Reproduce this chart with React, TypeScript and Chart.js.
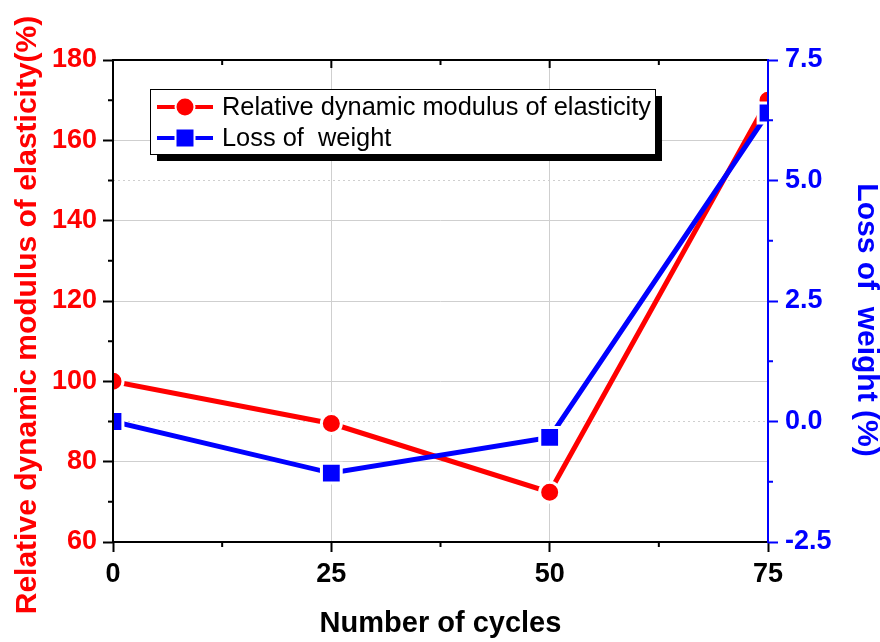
import { useEffect, useRef } from "react";
import { Chart, registerables } from "chart.js";

Chart.register(...registerables);

// Freeze–thaw test results
const cycles = [0, 25, 50, 75];
const relativeModulus = [100, 89.5, 72.4, 170];
const weightLoss = [0, -1.07, -0.33, 6.4];

const cycleTicks = [0, 25, 50, 75];
const modulusTicks = [60, 80, 100, 120, 140, 160, 180];
const lossTicks = [-2.5, 0, 2.5, 5, 7.5];

const seriesNames = ["Relative dynamic modulus of elasticity", "Loss of  weight"];
const xTitle = "Number of cycles";
const yTitle = "Relative dynamic modulus of elasticity(%)";
const y1Title = "Loss of  weight (%)";

const RED = "#ff0000";
const BLUE = "#0000ff";
const GRID = "#cfcfcf";
const FAMILY = "'Liberation Sans', Arial, Helvetica, sans-serif";

const midpoints = (arr: number[]) => arr.slice(0, -1).map((v, i) => (v + arr[i + 1]) / 2);

const edgeHidden = (ticks: number[], color: string) => (ctx: any) => {
  const v = ctx.tick ? ctx.tick.value : null;
  return v === ticks[0] || v === ticks[ticks.length - 1] ? "rgba(0,0,0,0)" : color;
};

// Axis frame, minor ticks, top mirror ticks
const framePlugin = {
  id: "frame",
  afterDatasetsDraw(chart: any) {
    const { ctx, chartArea } = chart;
    const { left, right, top, bottom } = chartArea;
    const xs = chart.scales.x;
    const ys = chart.scales.y;
    const y1 = chart.scales.y1;
    ctx.save();
    ctx.lineWidth = 2;
    ctx.strokeStyle = "#000";
    ctx.beginPath();
    ctx.moveTo(left - 1, top);
    ctx.lineTo(right, top);
    ctx.moveTo(left - 1, bottom);
    ctx.lineTo(right, bottom);
    ctx.moveTo(left, top);
    ctx.lineTo(left, bottom);
    // top mirror ticks (inward)
    cycleTicks.forEach((v) => {
      const px = xs.getPixelForValue(v);
      ctx.moveTo(px, top);
      ctx.lineTo(px, top + 8);
    });
    midpoints(cycleTicks).forEach((v) => {
      const px = xs.getPixelForValue(v);
      ctx.moveTo(px, top);
      ctx.lineTo(px, top + 5);
      // bottom minor ticks (outward)
      ctx.moveTo(px, bottom);
      ctx.lineTo(px, bottom + 5);
    });
    midpoints(modulusTicks).forEach((v) => {
      const py = ys.getPixelForValue(v);
      ctx.moveTo(left, py);
      ctx.lineTo(left - 5, py);
    });
    ctx.stroke();

    ctx.strokeStyle = BLUE;
    ctx.beginPath();
    ctx.moveTo(right, top - 1);
    ctx.lineTo(right, bottom + 1);
    midpoints(lossTicks).forEach((v) => {
      const py = y1.getPixelForValue(v);
      ctx.moveTo(right, py);
      ctx.lineTo(right + 5, py);
    });
    ctx.stroke();
    ctx.restore();
  },
};

// Axis titles
const titlePlugin = {
  id: "axisTitles",
  afterDraw(chart: any) {
    const { ctx, chartArea } = chart;
    ctx.save();
    ctx.textAlign = "center";
    ctx.textBaseline = "middle";

    ctx.fillStyle = "#000";
    ctx.font = `bold 29px ${FAMILY}`;
    ctx.fillText(xTitle, (chartArea.left + chartArea.right) / 2, 624);

    ctx.save();
    ctx.translate(28, 315);
    ctx.rotate(-Math.PI / 2);
    ctx.fillStyle = RED;
    ctx.font = `bold 30px ${FAMILY}`;
    ctx.fillText(yTitle, 0, 0);
    ctx.restore();

    ctx.save();
    ctx.translate(866, 320);
    ctx.rotate(Math.PI / 2);
    ctx.fillStyle = BLUE;
    ctx.font = `bold 30px ${FAMILY}`;
    ctx.fillText(y1Title, 0, 0);
    ctx.restore();

    ctx.restore();
  },
};

// Boxed legend with drop shadow
const legendPlugin = {
  id: "boxLegend",
  afterDraw(chart: any) {
    const { ctx } = chart;
    const bx = 150, by = 89, bw = 505, bh = 65, sh = 7;
    ctx.save();
    ctx.fillStyle = "#000";
    ctx.fillRect(bx + sh, by + sh, bw, bh);
    ctx.fillStyle = "#fff";
    ctx.fillRect(bx, by, bw, bh);
    ctx.strokeStyle = "#000";
    ctx.lineWidth = 1;
    ctx.strokeRect(bx + 0.5, by + 0.5, bw, bh);

    const rows = [107, 138];
    chart.data.datasets.forEach((ds: any, i: number) => {
      const yy = rows[i];
      const color = ds.borderColor;
      ctx.strokeStyle = color;
      ctx.lineWidth = 4;
      ctx.beginPath();
      ctx.moveTo(157, yy);
      ctx.lineTo(213, yy);
      ctx.stroke();
      ctx.fillStyle = color;
      ctx.strokeStyle = "#fff";
      ctx.lineWidth = 2;
      ctx.beginPath();
      if (ds.pointStyle === "rect") {
        ctx.rect(185 - 9.5, yy - 9.5, 19, 19);
      } else {
        ctx.arc(185, yy, 9.5, 0, Math.PI * 2);
      }
      ctx.fill();
      ctx.stroke();
      ctx.fillStyle = "#000";
      ctx.font = `25.4px ${FAMILY}`;
      ctx.textAlign = "left";
      ctx.textBaseline = "middle";
      ctx.fillText(ds.label, 222, yy + 1);
    });
    ctx.restore();
  },
};

export default function App() {
  const canvasRef = useRef<HTMLCanvasElement | null>(null);

  useEffect(() => {
    document.body.style.margin = "0";
    const canvas = canvasRef.current;
    if (!canvas) return;

    const tickFont = { family: FAMILY, size: 27, weight: "bold" as const };

    const chart = new Chart(canvas, {
      type: "line",
      data: {
        datasets: [
          {
            label: seriesNames[0],
            data: cycles.map((c, i) => ({ x: c, y: relativeModulus[i] })),
            yAxisID: "y",
            borderColor: RED,
            backgroundColor: RED,
            borderWidth: 5,
            pointStyle: "circle",
            pointRadius: 10,
            pointBorderWidth: 3,
            pointBorderColor: "#fff",
            pointBackgroundColor: RED,
            tension: 0,
            clip: 0,
            order: 2,
          },
          {
            label: seriesNames[1],
            data: cycles.map((c, i) => ({ x: c, y: weightLoss[i] })),
            yAxisID: "y1",
            borderColor: BLUE,
            backgroundColor: BLUE,
            borderWidth: 5,
            pointStyle: "rect",
            pointRadius: 14,
            pointBorderWidth: 3,
            pointBorderColor: "#fff",
            pointBackgroundColor: BLUE,
            tension: 0,
            clip: 0,
            order: 1,
          },
        ],
      },
      options: {
        responsive: false,
        animation: false,
        devicePixelRatio: 1,
        layout: { padding: { top: 60, left: 0, right: 0, bottom: 0 } },
        plugins: {
          legend: { display: false },
          tooltip: { enabled: false },
        },
        scales: {
          x: {
            type: "linear",
            min: cycleTicks[0],
            max: cycleTicks[cycleTicks.length - 1],
            afterBuildTicks: (s: any) => {
              s.ticks = cycleTicks.map((v) => ({ value: v }));
            },
            afterFit: (s: any) => {
              s.height = 100;
            },
            ticks: {
              color: "#000",
              font: tickFont,
              padding: 6,
              maxRotation: 0,
              callback: (v: any) => String(v),
            },
            grid: {
              color: edgeHidden(cycleTicks, GRID),
              lineWidth: 1,
              tickColor: "#000",
              tickLength: 10,
              tickWidth: 2,
              tickBorderDash: [],
            },
            border: { display: false },
          },
          y: {
            type: "linear",
            position: "left",
            min: modulusTicks[0],
            max: modulusTicks[modulusTicks.length - 1],
            afterBuildTicks: (s: any) => {
              s.ticks = modulusTicks.map((v) => ({ value: v }));
            },
            afterFit: (s: any) => {
              s.width = 113;
            },
            ticks: {
              color: RED,
              font: tickFont,
              padding: 6,
              callback: (v: any) => String(v),
            },
            grid: {
              color: edgeHidden(modulusTicks, GRID),
              lineWidth: 1,
              tickColor: "#000",
              tickLength: 10,
              tickWidth: 2,
              tickBorderDash: [],
            },
            border: { display: false },
          },
          y1: {
            type: "linear",
            position: "right",
            min: lossTicks[0],
            max: lossTicks[lossTicks.length - 1],
            afterBuildTicks: (s: any) => {
              s.ticks = lossTicks.map((v) => ({ value: v }));
            },
            afterFit: (s: any) => {
              s.width = 112;
            },
            ticks: {
              color: BLUE,
              font: tickFont,
              padding: 7,
              callback: (v: any) => Number(v).toFixed(1),
            },
            grid: {
              color: edgeHidden(lossTicks, GRID),
              lineWidth: 1,
              tickColor: BLUE,
              tickLength: 10,
              tickWidth: 2,
              tickBorderDash: [],
            },
            border: { display: false, dash: [2, 3] },
          },
        },
      },
      plugins: [framePlugin, titlePlugin, legendPlugin],
    });

    return () => chart.destroy();
  }, []);

  return (
    <div style={{ width: 880, height: 642, background: "#fff" }}>
      <canvas ref={canvasRef} width={880} height={642} style={{ display: "block" }} />
    </div>
  );
}
